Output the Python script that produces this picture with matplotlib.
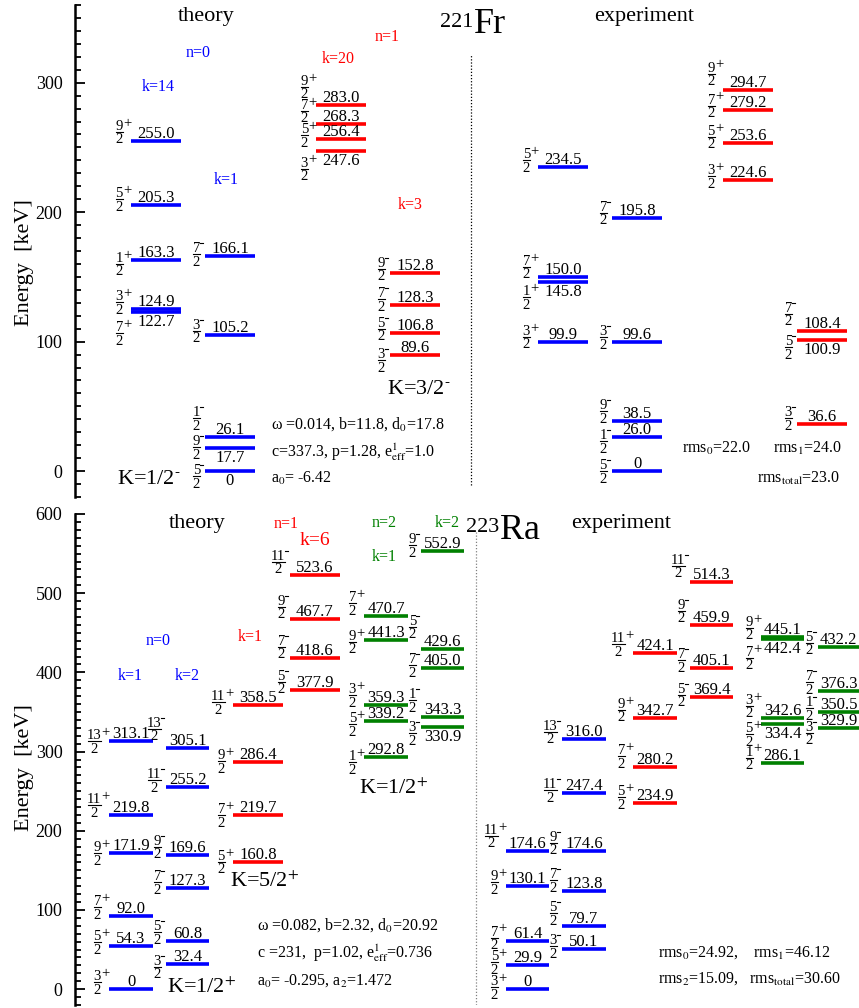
import matplotlib.pyplot as plt
from matplotlib.ticker import MultipleLocator
from matplotlib.transforms import offset_copy

plt.rcParams['font.family'] = ['Liberation Serif', 'DejaVu Serif']
plt.rcParams['mathtext.fontset'] = 'stix'

W, H = 859, 1008

# ---- 221Fr : theory ----
fr_th_a_E = [255.0, 205.3, 163.3, 124.9, 122.7]
fr_th_a_J = ['9/2+', '5/2+', '1/2+', '3/2+', '7/2+']
fr_th_b_E = [166.1, 105.2, 26.1, 17.7, 0]
fr_th_b_J = ['7/2-', '3/2-', '1/2-', '9/2-', '5/2-']
fr_th_c_E = [283.0, 268.3, 256.4, 247.6]
fr_th_c_J = ['9/2+', '7/2+', '5/2+', '3/2+']
fr_th_d_E = [152.8, 128.3, 106.8, 89.6]
fr_th_d_J = ['9/2-', '7/2-', '5/2-', '3/2-']
# ---- 221Fr : experiment ----
fr_ex_a_E = [234.5, 150.0, 145.8, 99.9]
fr_ex_a_J = ['5/2+', '7/2+', '1/2+', '3/2+']
fr_ex_b_E = [195.8, 99.6, 38.5, 26.0, 0]
fr_ex_b_J = ['7/2-', '3/2-', '9/2-', '1/2-', '5/2-']
fr_ex_c_E = [294.7, 279.2, 253.6, 224.6]
fr_ex_c_J = ['9/2+', '7/2+', '5/2+', '3/2+']
fr_ex_d_E = [108.4, 100.9, 36.6]
fr_ex_d_J = ['7/2-', '5/2-', '3/2-']

# ---- 223Ra : theory ----
ra_th_a_E = [313.1, 219.8, 171.9, 92.0, 54.3, 0]
ra_th_a_J = ['13/2+', '11/2+', '9/2+', '7/2+', '5/2+', '3/2+']
ra_th_b_E = [305.1, 255.2, 169.6, 127.3, 60.8, 32.4]
ra_th_b_J = ['13/2-', '11/2-', '9/2-', '7/2-', '5/2-', '3/2-']
ra_th_c_E = [358.5, 286.4, 219.7, 160.8]
ra_th_c_J = ['11/2+', '9/2+', '7/2+', '5/2+']
ra_th_d_E = [523.6, 467.7, 418.6, 377.9]
ra_th_d_J = ['11/2-', '9/2-', '7/2-', '5/2-']
ra_th_e_E = [470.7, 441.3, 359.3, 339.2, 292.8]
ra_th_e_J = ['7/2+', '9/2+', '3/2+', '5/2+', '1/2+']
ra_th_f_E = [552.9, 429.6, 405.0, 343.3, 330.9]
ra_th_f_J = ['9/2-', '5/2-', '7/2-', '1/2-', '3/2-']
# ---- 223Ra : experiment ----
ra_ex_a_E = [174.6, 130.1, 61.4, 29.9, 0]
ra_ex_a_J = ['11/2+', '9/2+', '7/2+', '5/2+', '3/2+']
ra_ex_b_E = [316.0, 247.4, 174.6, 123.8, 79.7, 50.1]
ra_ex_b_J = ['13/2-', '11/2-', '9/2-', '7/2-', '5/2-', '3/2-']
ra_ex_c_E = [424.1, 342.7, 280.2, 234.9]
ra_ex_c_J = ['11/2+', '9/2+', '7/2+', '5/2+']
ra_ex_d_E = [514.3, 459.9, 405.1, 369.4]
ra_ex_d_J = ['11/2-', '9/2-', '7/2-', '5/2-']
ra_ex_e_E = [445.1, 442.4, 342.6, 334.4, 286.1]
ra_ex_e_J = ['9/2+', '7/2+', '3/2+', '5/2+', '1/2+']
ra_ex_f_E = [432.2, 376.3, 350.5, 329.9]
ra_ex_f_J = ['5/2-', '7/2-', '1/2-', '3/2-']

BLUE, RED, GREEN = '#0000ff', '#ff0000', '#008000'

fig = plt.figure(figsize=(W / 100, H / 100), dpi=100)
ax_fr = fig.add_axes([0, 1 - 497 / H, 1, 492 / H])
ax_ra = fig.add_axes([0, 1 - 1005 / H, 1, 491 / H])

for ax, top in ((ax_fr, 360), (ax_ra, 600)):
    ax.set_xlim(0, W)
    ax.set_ylim(-20, top)
    ax.patch.set_visible(False)
    for s in ('top', 'right', 'bottom'):
        ax.spines[s].set_visible(False)
    ax.spines['left'].set_position(('data', 75))
    ax.spines['left'].set_linewidth(1.8)
    ax.xaxis.set_visible(False)
    ax.yaxis.set_major_locator(MultipleLocator(100))
    ax.yaxis.set_minor_locator(MultipleLocator(10))
    ax.tick_params(axis='y', which='both', direction='in', width=1.3,
                   labelsize=13, pad=9)
    ax.tick_params(axis='y', which='major', length=7)
    ax.tick_params(axis='y', which='minor', length=4.5)


def shifted(ax, dy):
    # data transform moved up by dy pixels
    return offset_copy(ax.transData, fig=fig, x=0, y=dy, units='dots')


def spin(ax, x0, e, j, dy):
    # spin/parity written as a small stacked fraction left of the level
    num, rest = j.split('/')
    den, par = rest[:-1], rest[-1]
    wpar = 7 if par == '+' else 4
    xr = x0 - 1.5 - wpar
    xl = xr - 6.5 * len(num)
    xc = (xl + xr) / 2
    ax.plot([xl, xr], [e, e], color='black', lw=0.8, transform=shifted(ax, dy))
    ax.text(xc, e, num, ha='center', va='baseline', fontsize=10.5,
            transform=shifted(ax, dy + 2))
    ax.text(xc, e, den, ha='center', va='baseline', fontsize=10.5,
            transform=shifted(ax, dy - 11.5))
    if par == '+':
        ax.text(xr + 0.3, e, '+', ha='left', va='baseline', fontsize=10.5,
                transform=shifted(ax, dy + 5))
    else:
        ax.plot([xr + 0.8, xr + 3.6], [e, e], color='black', lw=0.8,
                transform=shifted(ax, dy + 11))


def column(ax, x0, x1, E, J, color, fdy, side):
    ax.hlines(E, x0, x1, color=color, lw=2.6)
    for e, j, dy, sd in zip(E, J, fdy, side):
        spin(ax, x0, e, j, dy)
        lab = '0' if e == 0 else '%.1f' % e
        ax.text((x0 + x1) / 2, e, lab, ha='center', va='baseline', fontsize=12,
                transform=shifted(ax, 3 if sd == 'a' else -14))


A = 'a'
B = 'b'
# 221Fr
column(ax_fr, 131, 181, fr_th_a_E, fr_th_a_J, BLUE, [9, 6, -4, 7, -21], [A, A, A, A, B])
column(ax_fr, 205, 255, fr_th_b_E, fr_th_b_J, BLUE, [2, 4, 19, 1, -5], [A, A, A, B, B])
column(ax_fr, 316, 366, fr_th_c_E, fr_th_c_J, RED, [18, 13, 4, -18], [A, A, A, B])
column(ax_fr, 390, 440, fr_th_d_E, fr_th_d_J, RED, [4.5, 5.5, 4, -5], [A] * 4)
column(ax_fr, 538, 588, fr_ex_a_E, fr_ex_a_J, BLUE, [7, 10, -15, 5], [A, A, B, A])
column(ax_fr, 612, 662, fr_ex_b_E, fr_ex_b_J, BLUE, [5, 5, 10, -4, 0], [A] * 5)
column(ax_fr, 723, 773, fr_ex_c_E, fr_ex_c_J, RED, [16, 4, 6, 4], [A] * 4)
column(ax_fr, 797, 847, fr_ex_d_E, fr_ex_d_J, RED, [17, -7, 5.5], [A, B, A])
# 223Ra
column(ax_ra, 109, 153, ra_th_a_E, ra_th_a_J, BLUE, [0, 10, 0, 9, 4, 7], [A] * 6)
column(ax_ra, 166, 209, ra_th_b_E, ra_th_b_J, BLUE, [19, 7, 8, 6, 9, -3], [A] * 6)
column(ax_ra, 233, 283, ra_th_c_E, ra_th_c_J, RED, [3, 1, 0, 0], [A] * 4)
column(ax_ra, 290, 340, ra_th_d_E, ra_th_d_J, RED, [13, 12, 11, 8], [A] * 4)
column(ax_ra, 364, 408, ra_th_e_E, ra_th_e_J, GREEN, [13, -2, 9.5, -3.5, -5], [A] * 5)
column(ax_ra, 421, 464, ra_th_f_E, ra_th_f_J, GREEN, [6, 22, 3, 17, -6], [A, A, A, A, B])
column(ax_ra, 506, 549, ra_ex_a_E, ra_ex_a_J, BLUE, [15, 4, 3, 3, 2], [A] * 5)
column(ax_ra, 562, 606, ra_ex_b_E, ra_ex_b_J, BLUE, [7, 3, 8, 11, 13, 3], [A] * 6)
column(ax_ra, 633, 677, ra_ex_c_E, ra_ex_c_J, RED, [9, 8, 11, 6], [A] * 4)
column(ax_ra, 690, 733, ra_ex_d_E, ra_ex_d_J, RED, [16, 14, 8, 2], [A] * 4)
column(ax_ra, 761, 804, ra_ex_e_E, ra_ex_e_J, GREEN, [9, -19, 12, -10, 5], [A, B, A, B, A])
column(ax_ra, 818, 859, ra_ex_f_E, ra_ex_f_J, GREEN, [4, 9, 3.5, -5], [A] * 4)

# theory / experiment separators
ax_fr.vlines(471, -11, 321, colors='black', lw=0.9, linestyles=(0, (1, 1.5)))
ax_ra.vlines(476, -20, 577, colors='gray', lw=0.9, linestyles=(0, (1, 1.5)))


def ftext(px, py, s, **kw):
    kw.setdefault('va', 'baseline')
    fig.text(px / W, 1 - py / H, s, **kw)


for py in (263, 768):
    ftext(25, py, 'Energy  [keV]', rotation=90, va='center', ha='center', fontsize=16)

# 221Fr annotations
ftext(206, 21, 'theory', ha='center', fontsize=16)
ftext(644, 21, 'experiment', ha='center', fontsize=16)
ftext(473, 27, '221', ha='right', fontsize=16)
ftext(474, 33, 'Fr', ha='left', fontsize=26)
ftext(198, 57, 'n=0', ha='center', fontsize=11.5, color=BLUE)
ftext(158, 91, 'k=14', ha='center', fontsize=11.5, color=BLUE)
ftext(226, 184, 'k=1', ha='center', fontsize=11.5, color=BLUE)
ftext(387, 41, 'n=1', ha='center', fontsize=11.5, color=RED)
ftext(338, 63, 'k=20', ha='center', fontsize=11.5, color=RED)
ftext(410, 209, 'k=3', ha='center', fontsize=11.5, color=RED)
ftext(117, 484, r'K=1/2$^{\text{-}}$', ha='left', fontsize=16)
ftext(387, 394, r'K=3/2$^{\text{-}}$', ha='left', fontsize=16)
ftext(271, 429, r'ω =0.014, b=11.8, d$_{0}$=17.8', ha='left', fontsize=11.5)
ftext(271, 457, r'c=337.3, p=1.28, e$^{1}_{\mathrm{eff}}$=1.0', ha='left', fontsize=11.5)
ftext(271, 483, r'a$_{0}$= -6.42', ha='left', fontsize=11.5)
ftext(682, 453, r'rms$_{0}$=22.0', ha='left', fontsize=11.5)
ftext(773, 453, r'rms$_{1}$=24.0', ha='left', fontsize=11.5)
ftext(757, 483, r'rms$_{\mathrm{total}}$=23.0', ha='left', fontsize=11.5)

# 223Ra annotations
ftext(197, 528, 'theory', ha='center', fontsize=16)
ftext(621, 528, 'experiment', ha='center', fontsize=16)
ftext(499, 532, '223', ha='right', fontsize=16)
ftext(500, 539, 'Ra', ha='left', fontsize=26)
ftext(158, 645, 'n=0', ha='center', fontsize=11.5, color=BLUE)
ftext(130, 680, 'k=1', ha='center', fontsize=11.5, color=BLUE)
ftext(187, 680, 'k=2', ha='center', fontsize=11.5, color=BLUE)
ftext(286, 528, 'n=1', ha='center', fontsize=11.5, color=RED)
ftext(315, 545, 'k=6', ha='center', fontsize=14, color=RED)
ftext(250, 641, 'k=1', ha='center', fontsize=11.5, color=RED)
ftext(384, 527, 'n=2', ha='center', fontsize=11.5, color=GREEN)
ftext(384, 561, 'k=1', ha='center', fontsize=11.5, color=GREEN)
ftext(447, 527, 'k=2', ha='center', fontsize=11.5, color=GREEN)
ftext(167, 993, r'K=1/2$^{+}$', ha='left', fontsize=16)
ftext(230, 887, r'K=5/2$^{+}$', ha='left', fontsize=16)
ftext(359, 794, r'K=1/2$^{+}$', ha='left', fontsize=16)
ftext(257, 930, r'ω =0.082, b=2.32, d$_{0}$=20.92', ha='left', fontsize=11.5)
ftext(257, 958, r'c =231,  p=1.02, e$^{1}_{\mathrm{eff}}$=0.736', ha='left', fontsize=11.5)
ftext(257, 985, r'a$_{0}$= -0.295, a$_{2}$=1.472', ha='left', fontsize=11.5)
ftext(658, 957, r'rms$_{0}$=24.92,    rms$_{1}$=46.12', ha='left', fontsize=11.5)
ftext(658, 983, r'rms$_{2}$=15.09,   rms$_{\mathrm{total}}$=30.60', ha='left', fontsize=11.5)

fig.savefig('out.png', dpi=100)
